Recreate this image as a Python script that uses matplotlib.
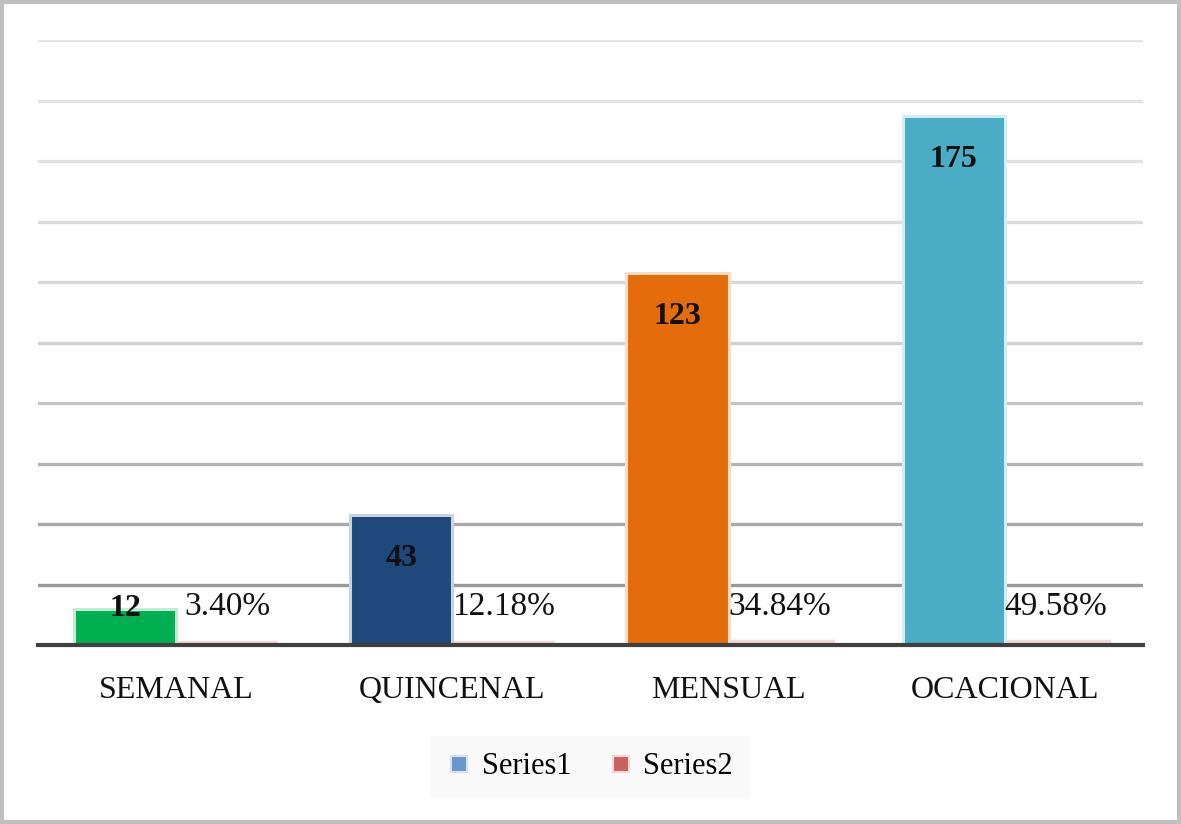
import matplotlib
matplotlib.use("Agg")
import matplotlib.pyplot as plt
from matplotlib.lines import Line2D
import numpy as np

# Frecuencia de compra: conteos y porcentajes
categories = ["SEMANAL", "QUINCENAL", "MENSUAL", "OCACIONAL"]
counts = [12, 43, 123, 175]
shares = [0.0340, 0.1218, 0.3484, 0.4958]
share_labels = ["3.40%", "12.18%", "34.84%", "49.58%"]
series_names = ["Series1", "Series2"]

bar_colors = ["#00b050", "#1f497d", "#e46c0a", "#4bacc6"]
bar_edges = ["#c4ecd3", "#c6d3e1", "#fbdcc4", "#d3edf3"]
grid_colors = ["#9a9a9a", "#a8a8a8", "#b4b4b4", "#c4c4c4", "#d0d0d0",
               "#d8d8d8", "#dcdcdc", "#e2e2e2", "#e4e4e4", "#e6e6e6"]

plt.rcParams["font.family"] = ["Liberation Serif", "DejaVu Serif"]

W, H, DPI = 1181, 824, 100
fig = plt.figure(figsize=(W / DPI, H / DPI), dpi=DPI)
fig.patch.set_facecolor("white")
fig.patch.set_edgecolor("#c0c0c0")
fig.patch.set_linewidth(5.5)

ax = fig.add_axes([38 / W, 1 - 645 / H, (1143 - 38) / W, (645 - 40) / H])
ax.set_xlim(-0.5, len(categories) - 0.5)
ax.set_ylim(0, 200)

yticks = np.arange(20, 201, 20)
for yv, gc in zip(yticks, grid_colors):
    ax.axhline(yv, color=gc, lw=2.4, zorder=0.5)

x = np.arange(len(categories))
bw = 0.37

# Series2 (porcentajes, casi a ras del eje)
ax.bar(x + bw / 2, shares, bw, color="#c0504d", edgecolor="#f6d8d8",
       linewidth=6, zorder=1)
# Series1 (conteos)
ax.bar(x - bw / 2, counts, bw, color=bar_colors, edgecolor=bar_edges,
       linewidth=2.2, zorder=2)

for xi, v in zip(x, counts):
    yl = v - 14.5 if v > 30 else v
    ax.text(xi - bw / 2, yl, str(v), ha="center", va="center",
            fontsize=23, fontweight="bold", color="#111111", zorder=4)

for xi, lab in zip(x, share_labels):
    ax.text(xi + bw / 2, 12.5, lab, ha="center", va="center",
            fontsize=24, color="#111111", zorder=4)

for s in ["top", "right", "left"]:
    ax.spines[s].set_visible(False)
ax.spines["bottom"].set_color("#404040")
ax.spines["bottom"].set_linewidth(3)
ax.spines["bottom"].set_zorder(3)

ax.set_yticks([])
ax.set_xticks(x)
ax.set_xticklabels(categories, fontsize=23, color="#111111")
ax.tick_params(axis="x", length=0, pad=22)

handles = [
    Line2D([], [], marker="s", linestyle="none", markersize=12,
           markerfacecolor="#6a96cc", markeredgecolor="#d5e1f1", markeredgewidth=1.5),
    Line2D([], [], marker="s", linestyle="none", markersize=12,
           markerfacecolor="#c9625f", markeredgecolor="#f5d6d6", markeredgewidth=1.5),
]
leg = fig.legend(handles, series_names, loc="center",
                 bbox_to_anchor=(590 / W, 1 - 767 / H), ncol=2, frameon=True,
                 fancybox=False, fontsize=22, handlelength=0.8,
                 handletextpad=0.35, columnspacing=1.2, borderpad=0.55)
leg.get_frame().set_facecolor("#f9f9f9")
leg.get_frame().set_edgecolor("none")
leg.get_frame().set_alpha(1)

fig.savefig("out.png", dpi=DPI, facecolor=fig.get_facecolor(),
            edgecolor=fig.get_edgecolor())
